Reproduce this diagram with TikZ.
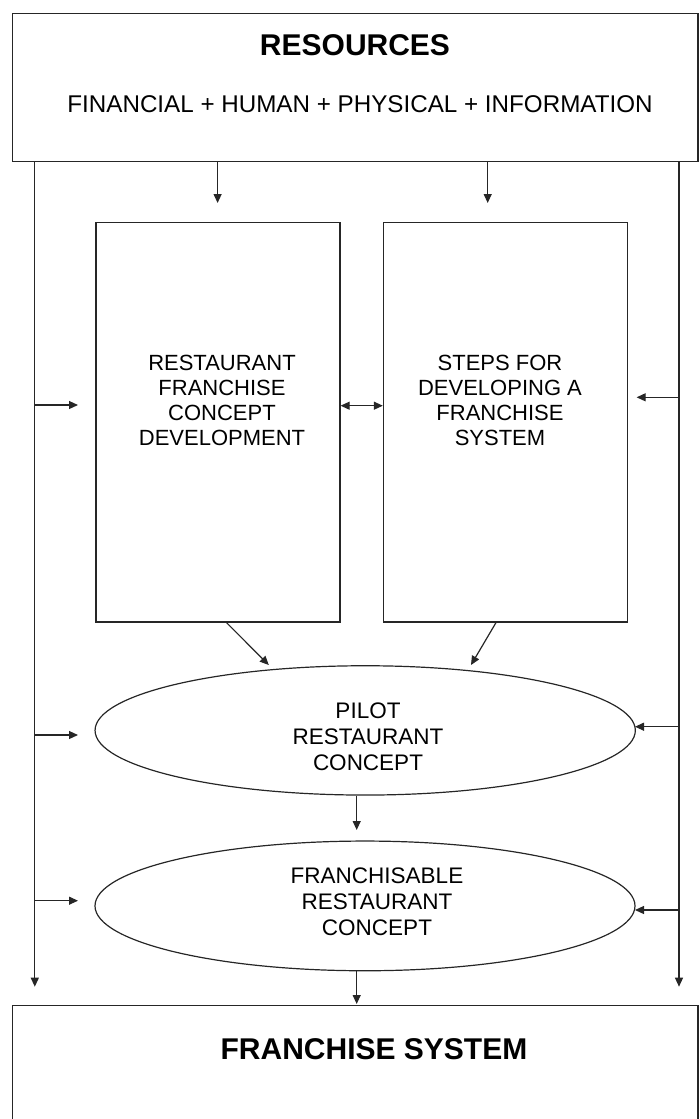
\documentclass[tikz,border=0pt]{standalone}
\usepackage{fontspec}
\setmainfont{Liberation Sans}
\usetikzlibrary{arrows.meta,shapes.geometric}

\begin{document}
\begin{tikzpicture}[x=1pt,y=-1pt,
  line width=1.2pt,
  box/.style={draw=black!85, rectangle, inner sep=0pt},
  oval/.style={draw=black!85, ellipse, inner sep=0pt},
  arr/.style={draw=black!85, -{Triangle[length=9pt,width=8pt]}},
  darr/.style={draw=black!85, {Triangle[length=9pt,width=8pt]}-{Triangle[length=9pt,width=8pt]}},
  title/.style={inner sep=0pt, font=\fontsize{30}{34}\selectfont\bfseries},
  sub/.style={inner sep=0pt, font=\fontsize{24.2}{28}\selectfont},
  boxtext/.style={inner sep=0pt, align=center, font=\fontsize{22}{25}\selectfont},
  ovaltext/.style={inner sep=0pt, align=center, font=\fontsize{22.5}{26}\selectfont}]

\useasboundingbox (0,0) rectangle (699,1119);
\clip (0,0) rectangle (699,1119);

% frames
\node[box, minimum width=685.5pt, minimum height=148.4pt] (res) at (355.25,87.5) {};
\node[box, minimum width=244pt, minimum height=399.3pt] (lcd) at (218,422.35) {};
\node[box, minimum width=243.9pt, minimum height=399.3pt] (sfs) at (505.35,422.35) {};
\node[oval, minimum width=540.3pt, minimum height=129.3pt] (pilot) at (365.2,730.4) {};
\node[oval, minimum width=540pt, minimum height=129.7pt] (fran) at (365,905.9) {};
\node[box, minimum width=685.5pt, minimum height=135pt] (fsys) at (355.25,1072.8) {};

% texts
\node[title] (resT) at (355,45) {RESOURCES};
\node[sub] (resS) at (360,104) {FINANCIAL + HUMAN + PHYSICAL + INFORMATION};
\node[boxtext] (lcdT) at (222,400.5) {RESTAURANT\\FRANCHISE\\CONCEPT\\DEVELOPMENT};
\node[boxtext] (sfsT) at (500,400.5) {STEPS FOR\\DEVELOPING A\\FRANCHISE\\SYSTEM};
\node[ovaltext] (pilotT) at (368,736.7) {PILOT\\RESTAURANT\\CONCEPT};
\node[ovaltext] (franT) at (377,901.3) {FRANCHISABLE\\RESTAURANT\\CONCEPT};
\node[title] (fsysT) at (374,1049) {FRANCHISE SYSTEM};

% free ends of the side feeds
\coordinate (lfeed) at (34.8,986.7);
\coordinate (rfeed) at (679,986.7);
\coordinate (lin1) at (78,405);
\coordinate (lin2) at (78,735);
\coordinate (lin3) at (78,900.7);
\coordinate (rin1) at (636.6,397.3);
\coordinate (rin2) at (635,726.7);
\coordinate (rin3) at (635,910);

% resources into the two development boxes
\draw[arr] (res.south -| 217.6,0) -- (217.6,203);
\draw[arr] (res.south -| 487.7,0) -- (487.7,203);

% side feeds running down both sides
\draw[arr] (res.south -| lfeed) -- (lfeed);
\draw[arr] (res.south -| rfeed) -- (rfeed);
\draw[arr] (lin1 -| lfeed) -- (lin1);
\draw[arr] (lin2 -| lfeed) -- (lin2);
\draw[arr] (lin3 -| lfeed) -- (lin3);
\draw[arr] (rin1 -| rfeed) -- (rin1);
\draw[arr] (rin2 -| rfeed) -- (rin2);
\draw[arr] (rin3 -| rfeed) -- (rin3);

% link between the development boxes
\draw[darr] (lcd.east |- 0,405.7) -- (sfs.west |- 0,405.7);

% development boxes into the pilot concept
\draw[arr] (lcd.south -| 226.5,0) -- (268.8,665);
\draw[arr] (sfs.south -| 496,0) -- (471,665);

% pilot -> franchisable -> franchise system
\draw[arr] (pilot.south -| 356.7,0) -- (356.7,830);
\draw[arr] (fran.south -| 356.7,0) -- (356.7,1004);
\end{tikzpicture}
\end{document}
